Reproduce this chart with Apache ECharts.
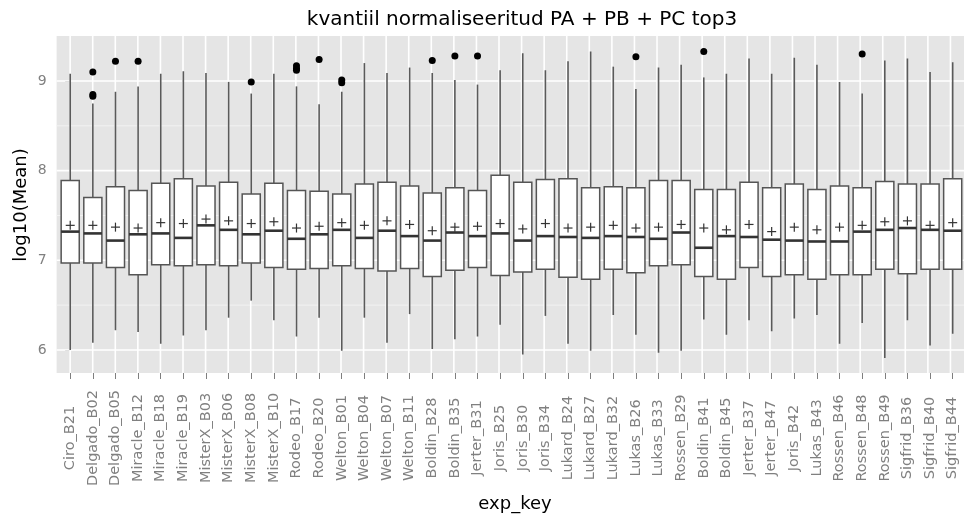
<!DOCTYPE html>
<html>
<head>
<meta charset="utf-8">
<script src="https://cdn.jsdelivr.net/npm/echarts@6/dist/echarts.min.js"></script>
<style>
html,body{margin:0;padding:0;background:#fff;}
#chart{width:964px;height:522px;}
</style>
</head>
<body>
<div id="chart"></div>
<script>
var categories = ["Ciro_B21","Delgado_B02","Delgado_B05","Miracle_B12","Miracle_B18","Miracle_B19","MisterX_B03","MisterX_B06","MisterX_B08","MisterX_B10","Rodeo_B17","Rodeo_B20","Welton_B01","Welton_B04","Welton_B07","Welton_B11","Boldin_B28","Boldin_B35","Jerter_B31","Joris_B25","Joris_B30","Joris_B34","Lukard_B24","Lukard_B27","Lukard_B32","Lukas_B26","Lukas_B33","Rossen_B29","Boldin_B41","Boldin_B45","Jerter_B37","Jerter_B47","Joris_B42","Lukas_B43","Rossen_B46","Rossen_B48","Rossen_B49","Sigfrid_B36","Sigfrid_B40","Sigfrid_B44"];
var whiskerLow = [6.00,6.08,6.22,6.20,6.07,6.16,6.22,6.36,6.55,6.33,6.15,6.36,5.99,6.36,6.08,6.40,6.01,6.12,6.15,6.28,5.95,6.38,6.07,5.99,6.39,6.17,5.97,5.99,6.34,6.17,6.33,6.21,6.35,6.39,6.07,6.30,5.91,6.33,6.05,6.18];
var q1 = [6.97,6.97,6.92,6.84,6.95,6.94,6.95,6.94,6.97,6.92,6.90,6.91,6.94,6.91,6.88,6.91,6.82,6.89,6.92,6.83,6.87,6.90,6.81,6.79,6.90,6.86,6.94,6.95,6.82,6.79,6.92,6.82,6.84,6.79,6.84,6.84,6.90,6.85,6.90,6.90];
var median = [7.32,7.30,7.22,7.29,7.30,7.25,7.39,7.34,7.29,7.33,7.24,7.29,7.34,7.25,7.33,7.27,7.22,7.31,7.27,7.30,7.22,7.27,7.26,7.25,7.27,7.26,7.24,7.31,7.14,7.27,7.26,7.23,7.22,7.21,7.21,7.32,7.34,7.36,7.34,7.33];
var q3 = [7.89,7.70,7.82,7.78,7.86,7.91,7.83,7.87,7.74,7.86,7.78,7.77,7.74,7.85,7.87,7.83,7.75,7.81,7.78,7.95,7.87,7.90,7.91,7.81,7.82,7.81,7.89,7.89,7.79,7.79,7.87,7.81,7.85,7.79,7.83,7.81,7.88,7.85,7.85,7.91];
var whiskerHigh = [9.08,8.75,8.88,8.94,9.08,9.11,9.09,8.99,8.86,9.08,8.94,8.74,8.88,9.20,9.09,9.15,9.09,9.01,8.96,9.12,9.31,9.12,9.22,9.33,9.16,8.91,9.15,9.18,9.04,9.08,9.25,9.08,9.26,9.18,8.99,8.86,9.23,9.25,9.10,9.21];
var means = [7.39,7.39,7.37,7.36,7.42,7.41,7.46,7.44,7.41,7.43,7.36,7.38,7.42,7.39,7.44,7.40,7.33,7.37,7.38,7.41,7.35,7.41,7.36,7.37,7.39,7.36,7.37,7.40,7.36,7.34,7.40,7.32,7.37,7.34,7.37,7.39,7.43,7.44,7.39,7.42];
var outliers = [["Delgado_B02",9.10],["Delgado_B02",8.85],["Delgado_B02",8.83],["Delgado_B05",9.22],["Miracle_B12",9.22],["MisterX_B08",8.99],["Rodeo_B17",9.17],["Rodeo_B17",9.14],["Rodeo_B17",9.12],["Rodeo_B20",9.24],["Welton_B01",9.01],["Welton_B01",8.98],["Boldin_B28",9.23],["Boldin_B35",9.28],["Jerter_B31",9.28],["Lukas_B26",9.27],["Boldin_B41",9.33],["Rossen_B48",9.30]];
var yMajor = [6,7,8,9];
var yMinor = [6.5,7.5,8.5];
var yRange = [5.743, 9.502];
var xRange = [-0.6, categories.length - 0.4];

var FONT = "DejaVu Sans";
var chart = echarts.init(document.getElementById('chart'), null, {renderer:'canvas'});

var boxData = categories.map(function(c,i){return [i, whiskerLow[i], q1[i], median[i], q3[i], whiskerHigh[i], means[i]];});
var outData = outliers.map(function(o){return [categories.indexOf(o[0]), o[1]];});
var hLines = yMajor.map(function(v){return [0, v, 1];}).concat(yMinor.map(function(v){return [0, v, 0];}));
var vLines = categories.map(function(c,i){return [i, yRange[0]];});

var option = {
  animation: false,
  backgroundColor: '#ffffff',
  grid: [
    {left: 56.6, top: 36, width: 916.6, height: 337, show: true, backgroundColor: '#E5E5E5', borderWidth: 0},
    {left: 58.9, top: 36, width: 912, height: 337, show: false}
  ],
  xAxis: [
    {type: 'value', gridIndex: 0, min: xRange[0], max: xRange[1], show: false},
    {type: 'category', gridIndex: 1, data: categories, boundaryGap: true,
     axisLine: {show: false},
     axisTick: {show: true, alignWithLabel: true, length: 6, lineStyle: {color: '#7F7F7F', width: 1}},
     axisLabel: {interval: 0, rotate: 90, margin: 65, align: 'center', verticalAlign: 'middle', color: '#808080', fontSize: 14.5, fontFamily: FONT},
     splitLine: {show: false}}
  ],
  yAxis: [
    {type: 'value', gridIndex: 0, min: yRange[0], max: yRange[1], splitNumber: 4,
     axisLine: {show: false},
     axisTick: {show: true, length: 5, lineStyle: {color: '#7F7F7F', width: 1}},
     axisLabel: {showMinLabel: false, showMaxLabel: false, margin: 10, color: '#808080', fontSize: 14, fontFamily: FONT},
     splitLine: {show: false}},
    {type: 'value', gridIndex: 1, min: yRange[0], max: yRange[1], show: false}
  ],
  graphic: [
    {type: 'text', style: {text: 'kvantiil normaliseeritud PA + PB + PC top3', fill: '#000', font: '20px "DejaVu Sans"', textAlign: 'center', textVerticalAlign: 'middle'}, x: 522, y: 20},
    {type: 'text', style: {text: 'exp_key', fill: '#000', font: '18px "DejaVu Sans"', textAlign: 'center', textVerticalAlign: 'middle'}, x: 515, y: 504},
    {type: 'text', style: {text: 'log10(Mean)', fill: '#000', font: '18px "DejaVu Sans"', textAlign: 'center', textVerticalAlign: 'middle'}, x: 21, y: 205, rotation: Math.PI/2}
  ],
  series: [
    {type: 'custom', xAxisIndex: 0, yAxisIndex: 0, z: 1, silent: true, data: hLines, encode: {x: 0, y: 1},
     renderItem: function(params, api){
       var cs = params.coordSys;
       var p = api.coord([xRange[0], api.value(1)]);
       var major = api.value(2) === 1;
       return {type: 'line', shape: {x1: cs.x, y1: p[1], x2: cs.x + cs.width, y2: p[1]},
               style: {stroke: major ? '#FFFFFF' : '#F2F2F2', lineWidth: major ? 1.6 : 1}};
     }},
    {type: 'custom', xAxisIndex: 0, yAxisIndex: 0, z: 1, silent: true, data: vLines, encode: {x: 0, y: 1},
     renderItem: function(params, api){
       var cs = params.coordSys;
       var p = api.coord([api.value(0), yRange[0]]);
       return {type: 'line', shape: {x1: p[0], y1: cs.y, x2: p[0], y2: cs.y + cs.height},
               style: {stroke: '#FFFFFF', lineWidth: 1.6}};
     }},
    {type: 'custom', xAxisIndex: 1, yAxisIndex: 1, z: 3, data: boxData, encode: {x: 0, y: [1,2,3,4,5,6]},
     renderItem: function(params, api){
       var i = api.value(0);
       var lo = api.coord([i, api.value(1)]);
       var b1 = api.coord([i, api.value(2)]);
       var md = api.coord([i, api.value(3)]);
       var b3 = api.coord([i, api.value(4)]);
       var hi = api.coord([i, api.value(5)]);
       var mn = api.coord([i, api.value(6)]);
       var bw = api.size([1, 0])[0] * 0.8;
       var cx = lo[0];
       var h = 4.5;
       return {type: 'group', children: [
         {type: 'line', shape: {x1: cx, y1: lo[1], x2: cx, y2: hi[1]}, style: {stroke: '#5A5A5A', lineWidth: 1.6}},
         {type: 'rect', shape: {x: cx - bw/2, y: b3[1], width: bw, height: b1[1] - b3[1]}, style: {fill: '#FFFFFF', stroke: '#555555', lineWidth: 1.5}},
         {type: 'line', shape: {x1: cx - bw/2, y1: md[1], x2: cx + bw/2, y2: md[1]}, style: {stroke: '#333333', lineWidth: 2.6}},
         {type: 'line', shape: {x1: cx - h, y1: mn[1], x2: cx + h, y2: mn[1]}, style: {stroke: '#333333', lineWidth: 1.2}},
         {type: 'line', shape: {x1: cx, y1: mn[1] - h, x2: cx, y2: mn[1] + h}, style: {stroke: '#333333', lineWidth: 1.2}}
       ]};
     }},
    {type: 'scatter', xAxisIndex: 1, yAxisIndex: 1, z: 4, data: outData, symbol: 'circle', symbolSize: 7,
     itemStyle: {color: '#000000', opacity: 1}}
  ]
};
chart.setOption(option);
</script>
</body>
</html>
